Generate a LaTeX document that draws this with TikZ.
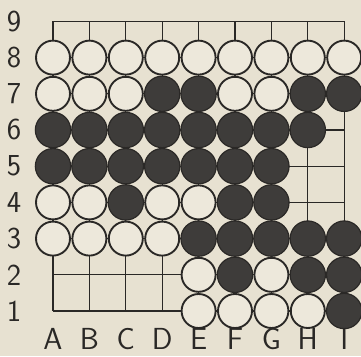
\documentclass[tikz,border=0pt]{standalone}
\usepackage{xcolor}
\usepackage{tikz}
\usetikzlibrary{positioning}
\definecolor{Paper}{HTML}{E7E1D1}
\definecolor{Ink}{HTML}{2A2826}
\definecolor{StoneDark}{HTML}{3E3C3A}
\definecolor{StoneLight}{HTML}{EDE8DB}
\tikzset{
  wstone/.style={circle,draw=Ink,fill=StoneLight,line width=1.6pt,minimum size=1.02cm,inner sep=0pt},
  bstone/.style={circle,draw=Ink,fill=StoneDark,line width=1pt,minimum size=1.06cm,inner sep=0pt},
  gridline/.style={draw=Ink,line width=1.1pt},
  coordlabel/.style={font=\sffamily\fontsize{26}{26}\selectfont,text=Ink,inner sep=0pt}
}

\begin{document}
\begin{tikzpicture}[x=0.03cm,y=-0.03cm]
  \fill[Paper] (0,0) rectangle (361,356);
  \useasboundingbox (0,0) rectangle (361,356);
  % intersections
  \foreach \c in {1,...,9}
    \foreach \r in {1,...,9}
      \coordinate (p-\c-\r) at ({53+36.4*(\c-1)},{311-36.2*(\r-1)});
  % board lines
  \foreach \r in {1,...,9}
    \draw[gridline] (p-1-\r) -- (p-9-\r);
  \foreach \c in {1,...,9}
    \draw[gridline] (p-\c-1) -- (p-\c-9);
  % white stones
  \foreach \c/\r in {1/8,2/8,3/8,4/8,5/8,6/8,7/8,8/8,9/8,
                     1/7,2/7,3/7,6/7,7/7,
                     1/4,2/4,4/4,5/4,
                     1/3,2/3,3/3,4/3,
                     5/2,7/2,
                     5/1,6/1,7/1,8/1}
    \node[wstone] (s-\c-\r) at (p-\c-\r) {};
  % black stones
  \foreach \c/\r in {4/7,5/7,8/7,9/7,
                     1/6,2/6,3/6,4/6,5/6,6/6,7/6,8/6,
                     1/5,2/5,3/5,4/5,5/5,6/5,7/5,
                     3/4,6/4,7/4,
                     5/3,6/3,7/3,8/3,9/3,
                     6/2,8/2,9/2,
                     9/1}
    \node[bstone] (s-\c-\r) at (p-\c-\r) {};
  % coordinates
  \foreach \r in {1,...,9}
    \node[coordlabel] (n-\r) at (14,0 |- p-1-\r) {\r};
  \foreach \c/\t in {1/A,2/B,3/C,4/D,5/E,6/F,7/G,8/H,9/I}
    \node[coordlabel] (l-\c) at (p-\c-1 |- 0,339) {\t};
\end{tikzpicture}
\end{document}
